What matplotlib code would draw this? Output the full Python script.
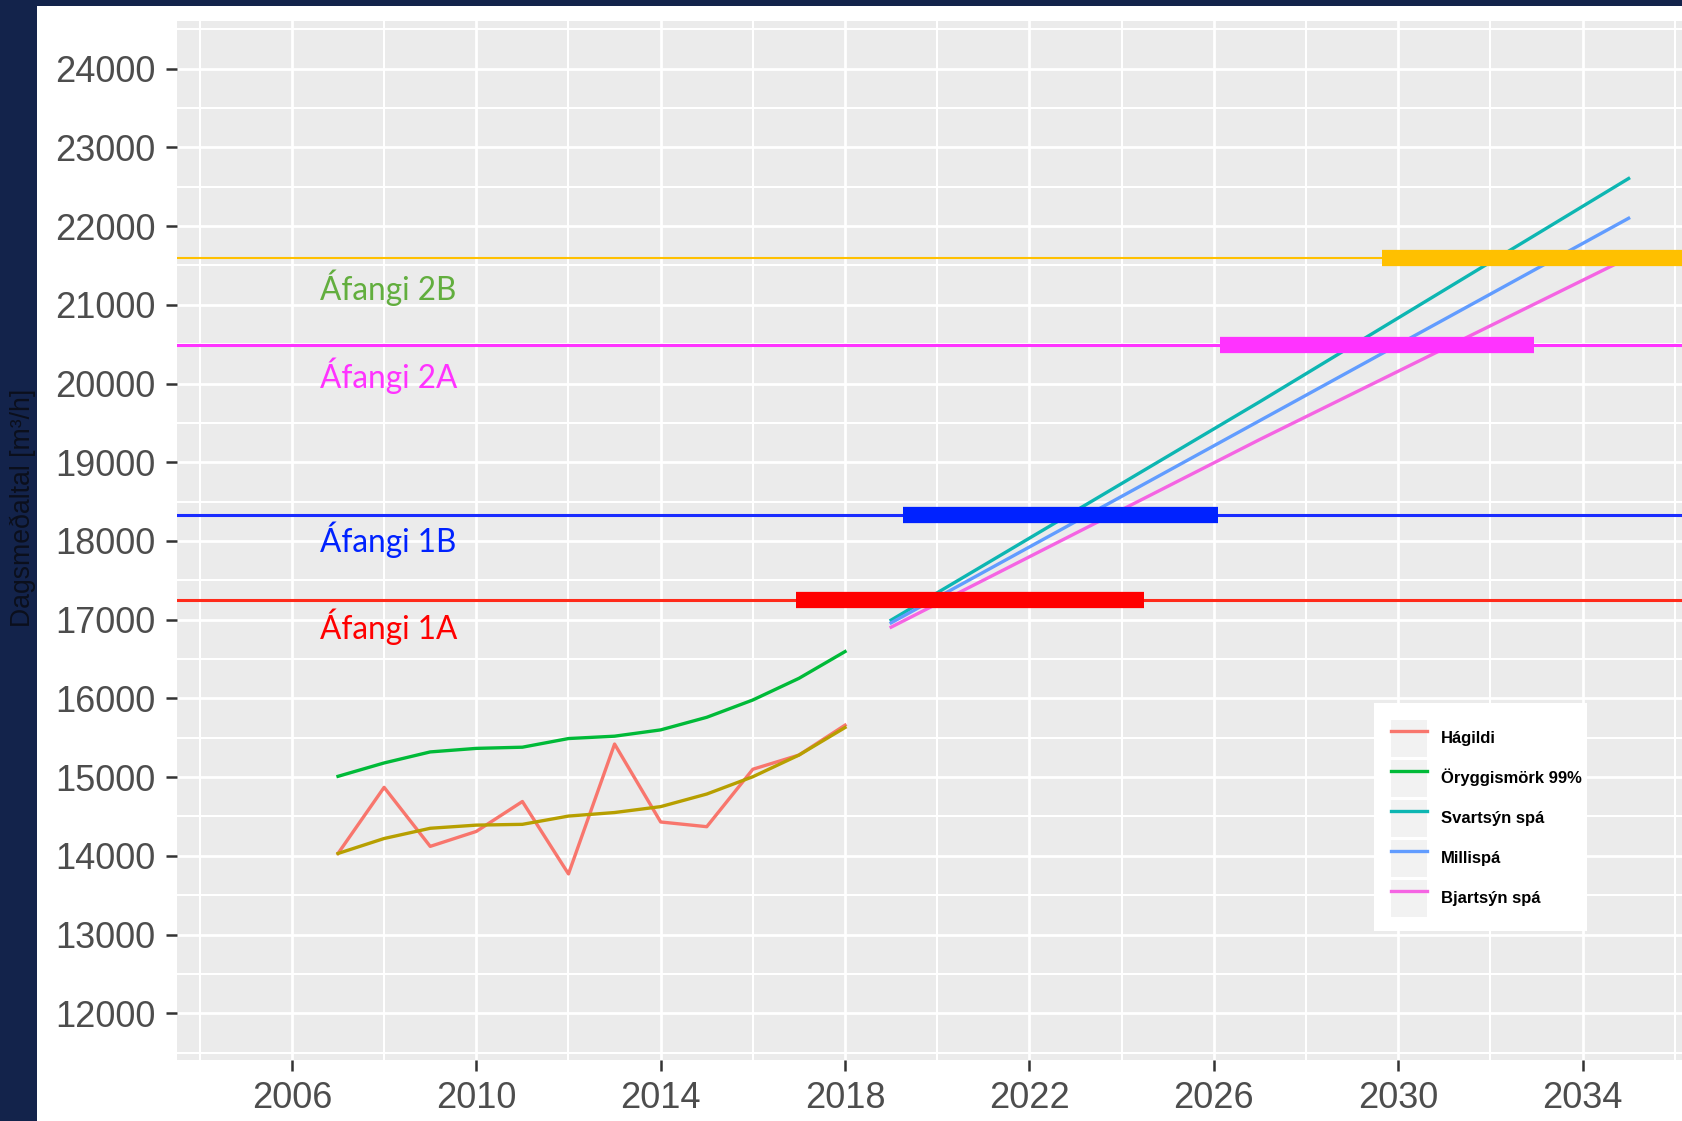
import matplotlib
matplotlib.use("Agg")
import matplotlib.pyplot as plt
from matplotlib.patches import Rectangle
from matplotlib.legend_handler import HandlerTuple
import matplotlib.transforms as mtransforms

# --- gogn lesin af myndinni ---
ar_saga = [2007, 2008, 2009, 2010, 2011, 2012, 2013, 2014, 2015, 2016, 2017, 2018]
hagildi = [14030, 14870, 14120, 14310, 14690, 13770, 15420, 14430, 14370, 15100, 15280, 15660]
oryggismork = [15010, 15180, 15320, 15365, 15380, 15490, 15520, 15600, 15760, 15980, 16255, 16595]
medalgildi = [14030, 14220, 14350, 14390, 14400, 14505, 14550, 14625, 14785, 15005, 15280, 15630]

ar_spa = [2019, 2027, 2035]
svartsyn = [16995, 19770, 22605]
millispa = [16960, 19530, 22100]
bjartsyn = [16905, 19290, 21600]

afangar = ['Áfangi 1A', 'Áfangi 1B', 'Áfangi 2A', 'Áfangi 2B']
afanga_gildi = [17250, 18330, 20485, 21600]
afanga_fra = [2016.94, 2019.25, 2026.13, 2029.66]
afanga_til = [2024.49, 2026.10, 2032.95, 2037.0]

x_ticks = [2006, 2010, 2014, 2018, 2022, 2026, 2030, 2034]
y_ticks = list(range(12000, 24001, 1000))

# --- litir ---
afanga_litir = ['#FF0000', '#0022FF', '#FF33FF', '#FFC000']
texta_litir = ['#FF0000', '#0022FF', '#FF33FF', '#62AE3E']
thunn_litir = ['#FF2A1A', '#1A2CFF', '#FF33FF', '#FFC000']
navy = '#13234B'

W, H = 1683, 1121
fig = plt.figure(figsize=(W / 100, H / 100), dpi=100)
fig.patch.set_facecolor('white')

# dokkbla rondin vinstra megin og efst
fig.patches.append(Rectangle((0, 0), 37 / W, 1, transform=fig.transFigure,
                             facecolor=navy, edgecolor='none', zorder=0))
fig.patches.append(Rectangle((0, 1 - 6 / H), 1, 6 / H, transform=fig.transFigure,
                             facecolor=navy, edgecolor='none', zorder=0))

ax = fig.add_axes([176.7 / W, 1 - 1060 / H, 1 - 176.7 / W, (1060 - 20.7) / H])
ax.set_facecolor('#EBEBEB')
for s in ax.spines.values():
    s.set_visible(False)

ax.set_xlim(2003.5, 2036.18)
ax.set_ylim(11406, 24610)
ax.set_xticks(x_ticks)
ax.set_xticks([t - 2 for t in x_ticks] + [2036], minor=True)
ax.set_yticks(y_ticks)
ax.set_yticks([t + 500 for t in y_ticks[:-1]] + [11500, 24500], minor=True)
ax.grid(which='major', color='white', linewidth=2.0)
ax.grid(which='minor', color='white', linewidth=1.5)
ax.set_axisbelow(True)
ax.tick_params(which='major', length=8, width=1.8, color='#333333', pad=7,
               labelsize=26, labelcolor='#4D4D4D')
ax.tick_params(which='minor', length=0)
for lab in ax.get_xticklabels() + ax.get_yticklabels():
    lab.set_fontfamily('Liberation Sans')

# thunnar laretta linur yfir allt
for g, c, lw in zip(afanga_gildi, thunn_litir, [2.2, 2.2, 2.2, 1.5]):
    ax.axhline(g, color=c, linewidth=lw, zorder=2)

# gagnaradir
lw = 2.4
l_hag, = ax.plot(ar_saga, hagildi, color='#F8766D', linewidth=lw, zorder=3)
l_ory, = ax.plot(ar_saga, oryggismork, color='#00BA38', linewidth=lw, zorder=3)
ax.plot(ar_saga, medalgildi, color='#B79F00', linewidth=lw, zorder=3)
l_sva, = ax.plot(ar_spa, svartsyn, color='#0DB6B2', linewidth=lw, zorder=3)
l_mil, = ax.plot(ar_spa, millispa, color='#619CFF', linewidth=lw, zorder=3)
l_bja, = ax.plot(ar_spa, bjartsyn, color='#F564E3', linewidth=lw, zorder=3)

# thykkar stikur fyrir afanga
for g, a, b, c in zip(afanga_gildi, afanga_fra, afanga_til, afanga_litir):
    ax.plot([a, b], [g, g], color=c, linewidth=11.7, solid_capstyle='butt', zorder=4)

# textar undir linum
for nafn, g, c, dy in zip(afangar, afanga_gildi, texta_litir, [-19, -18, -22, -22]):
    tr = mtransforms.offset_copy(ax.transData, fig=fig, x=0, y=dy, units='points')
    ax.text(2006.6, g, nafn, color=c, fontsize=22.7, family='Lato',
            ha='left', va='center', transform=tr, zorder=5)

# skyringar: hvitur kassi + lykill
ax.add_patch(Rectangle((1374 / W, 1 - 931 / H), 213 / W, 228 / H,
                       transform=fig.transFigure, facecolor='white',
                       edgecolor='none', zorder=5.5, clip_on=False))
key = Rectangle((0, 0), 1, 1, facecolor='#F2F2F2', edgecolor='none')
handles = [(key, l) for l in [l_hag, l_ory, l_sva, l_mil, l_bja]]
labels = ['Hágildi', 'Öryggismörk 99%', 'Svartsýn spá', 'Millispá', 'Bjartsýn spá']
leg = ax.legend(handles, labels, handler_map={tuple: HandlerTuple(ndivide=1, pad=0)},
                loc='upper left', bbox_to_anchor=(1374 / W, 1 - 703 / H),
                bbox_transform=fig.transFigure, borderaxespad=0,
                prop={'family': 'Liberation Sans', 'weight': 'bold', 'size': 12},
                handlelength=2.2, handleheight=3.04, labelspacing=0.18,
                handletextpad=0.8, borderpad=1.0, frameon=False)
leg.set_zorder(6)

fig.text(23 / W, 1 - 508 / H, 'Dagsmeðaltal [m³/h]', rotation=90,
         ha='center', va='center', fontsize=19.2, family='Liberation Sans',
         color='#0B0F1C')

fig.savefig('out.png', dpi=100)
